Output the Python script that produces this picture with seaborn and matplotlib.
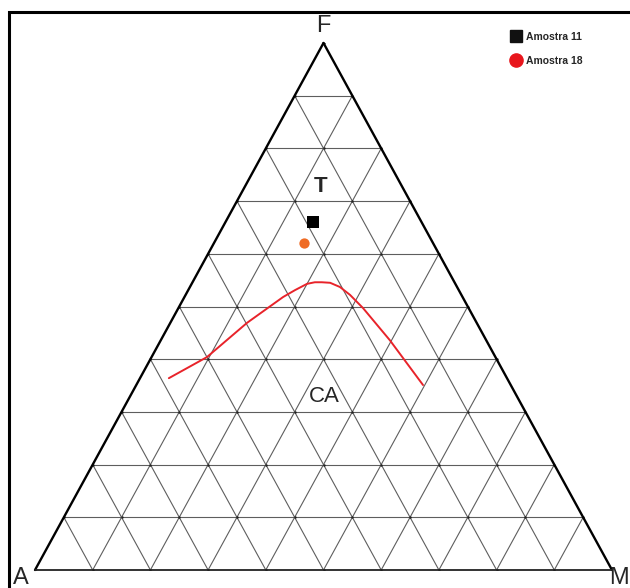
import numpy as np
import pandas as pd
import matplotlib
matplotlib.use("Agg")
import matplotlib.pyplot as plt
from matplotlib.lines import Line2D
import seaborn as sns

# AFM ternary diagram (A = alkalis, F = FeO total, M = MgO)
vertex_labels = ["A", "F", "M"]
field_labels = ["T", "CA"]

sample_names = ["Amostra 11", "Amostra 18"]
sample_F = [0.660, 0.620]
sample_M = [0.152, 0.156]

# Tholeiitic / calc-alkaline dividing curve (F, M fractions)
curve_F = [0.364, 0.404, 0.469, 0.518, 0.531, 0.543, 0.546, 0.546, 0.545,
           0.537, 0.522, 0.497, 0.436, 0.351]
curve_M = [0.050, 0.096, 0.133, 0.171, 0.185, 0.200, 0.212, 0.224, 0.239,
           0.260, 0.285, 0.320, 0.397, 0.497]

grid_steps = 10

sns.set_style("white")
plt.rcParams["font.family"] = ["Liberation Sans", "DejaVu Sans"]

W, H = 630, 588
fig = plt.figure(figsize=(W / 100, H / 100), dpi=100)
# triangle base spans x 35..612 px, base at y=570 px, apex at y=43 px
ax = fig.add_axes([35 / W, (H - 570) / H, 577 / W, 527 / H])
ax.set_xlim(0, 1)
ax.set_ylim(0, 1)
ax.set_axis_off()


def to_xy(F, M):
    F = np.asarray(F, dtype=float)
    M = np.asarray(M, dtype=float)
    return M + F / 2.0, F


# internal grid
for i in range(1, grid_steps):
    t = i / grid_steps
    kw = dict(color="#5e5e5e", lw=0.8, zorder=1)
    ax.plot([t / 2, 1 - t / 2], [t, t], **kw)               # constant F
    ax.plot([t, t + (1 - t) / 2], [0, 1 - t], **kw)          # constant M
    ax.plot([1 - t, (1 - t) / 2], [0, 1 - t], **kw)          # constant A

# lattice nodes
nodes = [(i / grid_steps, j / grid_steps)
         for i in range(grid_steps + 1) for j in range(grid_steps + 1 - i)]
nx, ny = to_xy([n[0] for n in nodes], [n[1] for n in nodes])
ax.scatter(nx, ny, s=3, color="#222222", zorder=2, linewidths=0)

# triangle outline
ax.plot([0, 0.5], [0, 1], color="black", lw=1.7, zorder=3, clip_on=False)
ax.plot([0.5, 1], [1, 0], color="black", lw=1.7, zorder=3, clip_on=False)
ax.plot([0, 1], [0, 0], color="#222222", lw=1.3, zorder=3, clip_on=False)

# dividing curve
cx, cy = to_xy(curve_F, curve_M)
curve_df = pd.DataFrame({"x": cx, "y": cy})
sns.lineplot(data=curve_df, x="x", y="y", sort=False, color="#e8232a", lw=1.4,
             ax=ax, zorder=4)

# samples
sx, sy = to_xy(sample_F, sample_M)
sns.scatterplot(x=[sx[0]], y=[sy[0]], marker="s", s=75, color="black",
                linewidth=0, ax=ax, zorder=5)
sns.scatterplot(x=[sx[1]], y=[sy[1]], marker="o", s=55, color="#ef6b24",
                linewidth=0, ax=ax, zorder=5)
ax.set_xlabel("")
ax.set_ylabel("")


def px(x, y):
    return x / W, 1 - y / H


# vertex labels
fig.text(*px(323, 26), vertex_labels[1], ha="center", va="center", fontsize=17)
fig.text(*px(21, 578), vertex_labels[0], ha="center", va="center", fontsize=17)
fig.text(*px(629, 578), vertex_labels[2], ha="right", va="center", fontsize=17)

# field labels
fig.text(*px(321, 186), field_labels[0], ha="center", va="center",
         fontsize=16, fontweight="bold")
fig.text(*px(324, 397), field_labels[1], ha="center", va="center", fontsize=16)

# legend
fig.add_artist(Line2D([px(516, 36)[0]], [px(516, 36)[1]], marker="s",
                      markersize=8, color="#111111", linestyle="none",
                      transform=fig.transFigure))
fig.add_artist(Line2D([px(516, 60)[0]], [px(516, 60)[1]], marker="o",
                      markersize=9.5, color="#e8161c", linestyle="none",
                      transform=fig.transFigure))
fig.text(*px(526, 37), sample_names[0], ha="left", va="center",
         fontsize=7.5, fontweight="bold")
fig.text(*px(526, 61), sample_names[1], ha="left", va="center",
         fontsize=7.5, fontweight="bold")

# outer frame (left and top edges)
fig.add_artist(Line2D([9 / W, 9 / W, 1.0], [0.0, 1 - 12 / H, 1 - 12 / H],
                      color="black", lw=2.2, transform=fig.transFigure,
                      solid_joinstyle="miter"))

fig.savefig("out.png", dpi=100)
